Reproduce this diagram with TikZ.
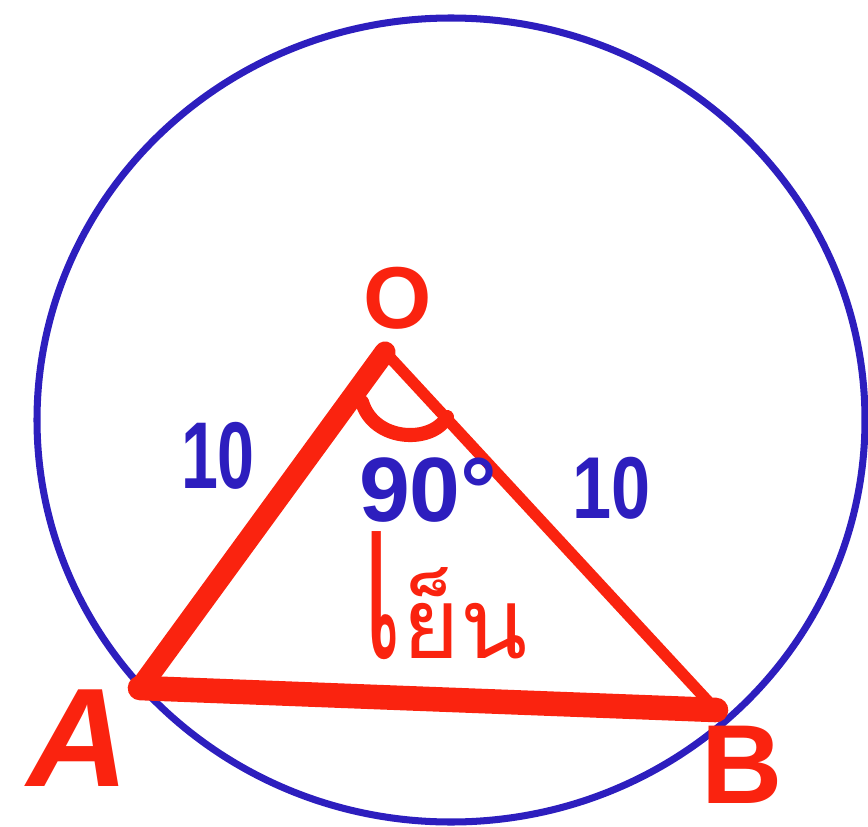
\documentclass[tikz,border=0pt]{standalone}
\usepackage{fontspec}
\setmainfont{Liberation Sans}
\newfontfamily\thaifont[Script=Thai]{Loma}
\usepackage{graphicx}
\usetikzlibrary{positioning}
\definecolor{penblue}{RGB}{45,30,190}
\definecolor{penred}{RGB}{250,35,15}

\begin{document}
\begin{tikzpicture}[x=0.02cm, y=-0.02cm,
    lbl/.style={text=#1, inner sep=0pt, font=\bfseries},
    side/.style={draw=penred, line width=#1, line cap=round, line join=round}
]
\useasboundingbox (0,0) rectangle (868,827);

% Circle
\draw[penblue, line width=4pt] (451,420) ellipse [x radius=414, y radius=402];

% Triangle
\coordinate (O) at (385,352);
\coordinate (A) at (140,688);
\coordinate (B) at (716,710);
\draw[side=12pt] (A) -- (O);
\draw[side=14pt] (A) -- (B);
\draw[side=6.5pt] (O) -- (B);
\draw[side=8pt] (362,402) .. controls (374,442) and (432,444) .. (447,417);

% Labels
\node[lbl=penred, font=\bfseries\fontsize{50}{50}\selectfont] (o) at (398,298) {O};
\node[lbl=penred, font=\bfseries\itshape\fontsize{80}{80}\selectfont] (a) at (78,738) {A};
\node[lbl=penred, font=\bfseries\fontsize{64}{64}\selectfont] (b) at (742,765) {B};
\node[lbl=penblue] (oa) at (218,456) {\fontsize{54}{54}\selectfont\scalebox{0.7}[1]{10}};
\node[lbl=penblue] (ob) at (612,488) {\fontsize{50}{50}\selectfont\scalebox{0.8}[1]{10}};
\node[lbl=penblue] (ang) at (410,490) {\fontsize{52}{52}\selectfont 90\rlap{°}};
\node[lbl=penred, font=\thaifont\fontsize{56}{56}\selectfont, anchor=base west] (note) at (362,658) {\scalebox{1.2}[2.3]{เ}ย็น};
\end{tikzpicture}
\end{document}
